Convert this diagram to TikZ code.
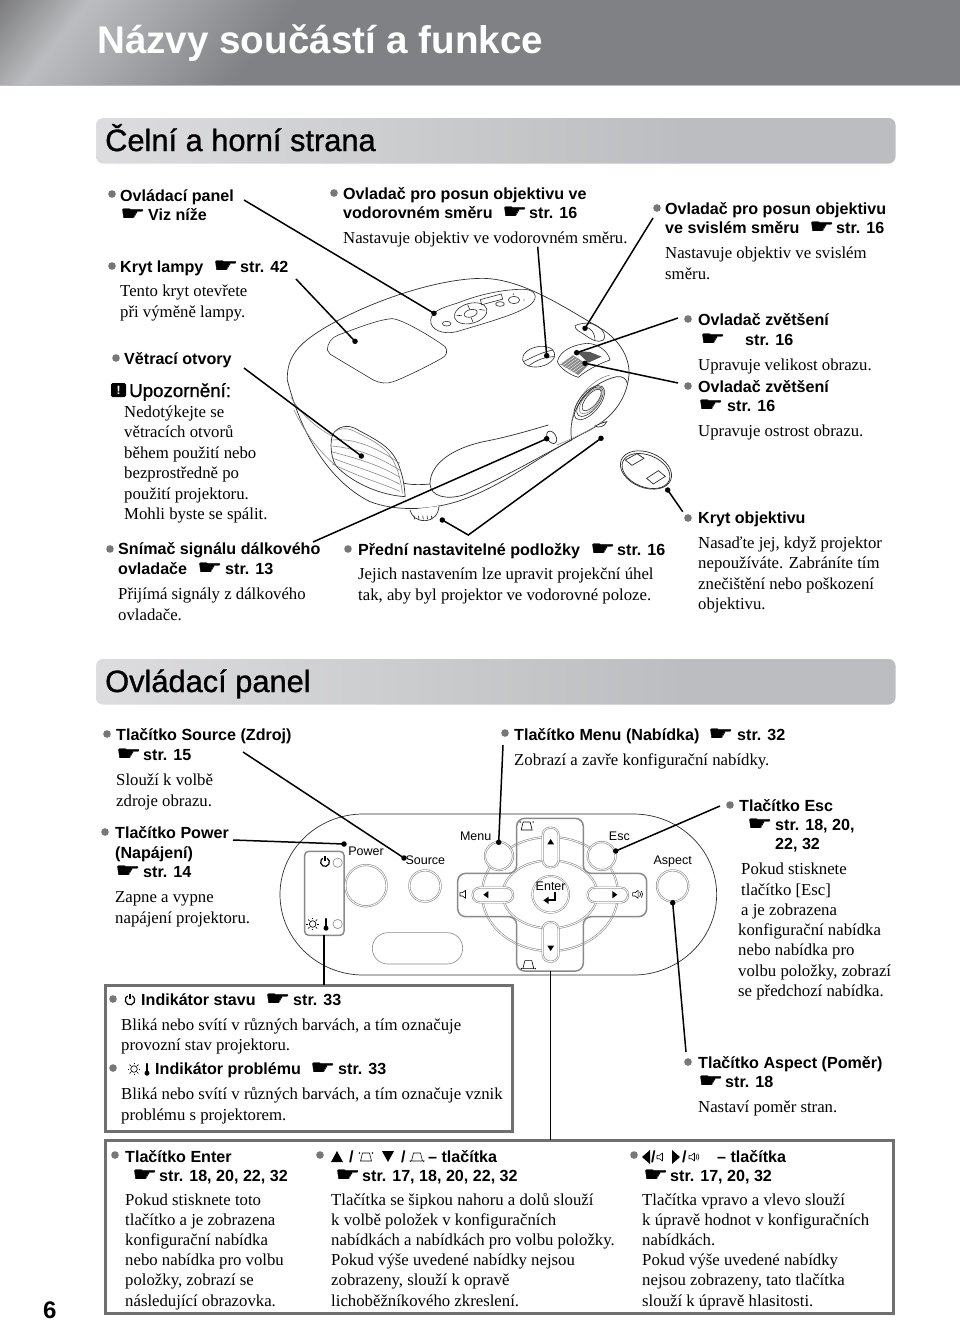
\documentclass[tikz,border=0pt]{standalone}
\usepackage{fontspec}
\usepackage{graphicx}
\setmainfont{Liberation Serif}
\newfontfamily\arial{Liberation Sans}
\newfontfamily\arialfb[FakeBold=1]{Liberation Sans}
\newfontfamily\dvb[FakeBold=1.2]{DejaVu Sans}
\definecolor{hA}{HTML}{7C7C7E}
\definecolor{hB}{HTML}{BCBDC0}
\definecolor{hC}{HTML}{808184}
\definecolor{sA}{HTML}{B8B8BA}
\definecolor{sB}{HTML}{E6E6E7}
\definecolor{sC}{HTML}{BCBDC0}
\definecolor{bull}{HTML}{777777}
\definecolor{fr}{HTML}{707070}
\definecolor{pl}{HTML}{2E2E2E}
\definecolor{pg}{HTML}{8A8A8A}
\pgfdeclarehorizontalshading{sbar}{100bp}{color(0bp)=(sA); color(14bp)=(sB); color(62bp)=(sC); color(100bp)=(sC)}
\newcounter{lb}
\newcommand\Lb[4]{\stepcounter{lb}\node[#1] (L\arabic{lb}) at (#2,#3) {#4};}
\newcommand\Hd[3]{\Lb{hd}{#1}{#2}{#3}}
\newcommand\Bd[3]{\Lb{bd}{#1}{#2}{#3}}
\newcommand\Bu[2]{\stepcounter{lb}\node[bul] (L\arabic{lb}) at (#1,#2) {};}
\newcommand\Ha[2]{\Lb{handn}{#1}{#2}{\scalebox{1.4}[1]{☛}}}
\tikzset{
  hd/.style={anchor=base west,inner sep=0pt,font=\arial\bfseries\fontsize{16.1}{18}\selectfont},
  bd/.style={anchor=base west,inner sep=0pt,font=\fontsize{16.75}{18}\selectfont},
  handn/.style={anchor=base west,inner sep=0pt,font=\dvb\fontsize{20}{20}\selectfont},
  bul/.style={circle,fill=bull,inner sep=0pt,minimum size=7.6pt},
  dotn/.style={circle,fill=black,inner sep=0pt,minimum size=5.5pt},
  leader/.style={line width=1.5pt,black},
  frameb/.style={draw=fr,line width=3pt,fill=white},
  sbarb/.style={rounded corners=7pt,shading=sbar},
  sect/.style={anchor=base west,inner sep=0pt,font=\arialfb\fontsize{30.8}{34}\selectfont},
  pj/.style={draw=pl,line width=.7pt},
  pjl/.style={draw=pg,line width=.6pt},
  zA/.style={shift={(270,180)},x=.33333pt,y=-.33333pt},
  zB/.style={shift={(270,790)},x=.33333pt,y=-.33333pt},
  ring/.style={draw=pg,double=white,double distance=.9pt,line width=.6pt,fill=white},
  pnl/.style={anchor=center,inner sep=0pt,font=\arial\fontsize{12.5}{14}\selectfont},
  pics/pwr/.style={code={\draw[line width=1.2pt,black] (-60:#1) arc[start angle=-60,end angle=240,radius=#1]; \draw[line width=1.2pt,black] (0,-1.35*#1) -- (0,-.2*#1);}},
  pics/lamp/.style={code={\draw[line width=.7pt,black] (0,0) circle[radius=3.3]; \foreach \a in {0,45,...,315}{\draw[line width=.7pt,black] (\a:4.6) -- (\a:6.3);}}},
  pics/therm/.style={code={\draw[line width=2.2pt,black,line cap=round] (0,-5) -- (0,4); \fill[black] (0,4.2) circle[radius=2.5];}},
  pics/keyt/.style={code={\draw[line width=.6pt,black] (-3.5,-4) -- (3.5,-4) -- (5.5,4) -- (-5.5,4) -- cycle; \fill[black] (-6.5,-4) circle[radius=.8] (6.5,-4) circle[radius=.8];}},
  pics/keyb/.style={code={\draw[line width=.6pt,black] (-3.5,-4) -- (3.5,-4) -- (5.5,4) -- (-5.5,4) -- cycle; \fill[black] (-6.8,4) circle[radius=.8] (6.8,4) circle[radius=.8];}},
  pics/spk/.style={code={\draw[line width=.6pt,black,line join=round] (-4,-1.7) -- (-1.5,-1.7) -- (1.5,-4) -- (1.5,4) -- (-1.5,1.7) -- (-4,1.7) -- cycle;}},
  pics/spkr/.style={code={\draw[line width=.6pt,black,line join=round] (-4,-1.7) -- (-1.5,-1.7) -- (1.5,-4) -- (1.5,4) -- (-1.5,1.7) -- (-4,1.7) -- cycle; \draw[line width=.6pt,black] (3,-2.5) arc[start angle=-40,end angle=40,radius=3.8] (4.7,-3.4) arc[start angle=-40,end angle=40,radius=5.2];}},
}
\begin{document}
\begin{tikzpicture}[x=1pt,y=-1pt]
\useasboundingbox (0,0) rectangle (960,1323);
\fill[white] (0,0) rectangle (960,1323);
% title band with slanted sheen
\fill[hA] (0,0) rectangle (960,85);
\foreach \t in {0,3,...,90}{\pgfmathsetmacro{\p}{\t/90*100}\fill[hB!\p!hA] (\t,0) -- (960,0) -- (960,85) -- ({\t-68},85) -- cycle;}
\foreach \t in {93,96,...,300}{\pgfmathsetmacro{\p}{(\t-90)/210*100}\fill[hC!\p!hB] (\t,0) -- (960,0) -- (960,85) -- ({\t-68},85) -- cycle;}
\draw[line width=.8pt,color=hB] (0,85.3) -- (960,85.3);
\node[anchor=base west,inner sep=0pt,text=white,font=\arial\bfseries\fontsize{38.6}{40}\selectfont] (title) at (97,53) {Názvy součástí a funkce};
\path[sbarb] (96,118) rectangle (895.5,163.5);
\node[sect] (sect1) at (105,151) {Čelní a horní strana};
\path[sbarb] (96,659) rectangle (895.5,704.5);
\node[sect] (sect2) at (105,692) {Ovládací panel};

% ---------- projector
\begin{scope}[zA]
\draw[pj,fill=white] (52,600) .. controls (50,530) and (85,490) .. (170,440) .. controls (300,365) and (500,295) .. (640,295) .. controls (760,298) and (880,380) .. (1000,450) .. controls (1060,490) and (1085,550) .. (1075,600) .. controls (1065,660) and (1030,710) .. (960,750) .. controls (800,830) and (700,920) .. (560,965) .. controls (480,990) and (380,995) .. (300,965) .. controls (170,900) and (90,750) .. (52,600) -- cycle;
\draw[pjl] (62,650) .. controls (90,700) and (140,745) .. (190,770);
\draw[pjl] (72,690) .. controls (110,770) and (160,830) .. (220,875);
\draw[pj] (395,908) .. controls (420,915) and (450,915) .. (480,912);
\draw[pj] (480,912) .. controls (480,860) and (530,810) .. (640,785) .. controls (720,770) and (800,745) .. (835,735);
\draw[pj] (480,912) .. controls (482,950) and (530,960) .. (580,945) .. controls (680,905) and (800,835) .. (905,780);
\draw[pjl] (860,795) .. controls (900,780) and (960,750) .. (1000,725);
% vent
\draw[pj,fill=white] (185,775) .. controls (190,745) and (225,730) .. (255,745) .. controls (300,770) and (345,790) .. (370,825) .. controls (395,860) and (405,920) .. (405,950) .. controls (330,945) and (250,910) .. (200,860) .. controls (185,840) and (180,800) .. (185,775) -- cycle;
\draw[pjl] (190,760) .. controls (200,745) and (230,742) .. (250,752) .. controls (295,775) and (340,795) .. (362,830) .. controls (385,862) and (395,915) .. (397,940);
\foreach \d in {0,30,...,120}{\draw[pjl] (187,{780+\d*.6}) .. controls ({240+\d*.3},{775+\d}) and ({300+\d*.3},{790+\d}) .. (390,{850+\d*.7});}
% lamp cover
\draw[pjl,draw=pl] (172,510) .. controls (172,490) and (185,472) .. (205,465) .. controls (260,445) and (320,420) .. (365,416) .. controls (395,415) and (500,480) .. (525,500) .. controls (535,512) and (530,528) .. (515,535) .. controls (470,560) and (410,590) .. (370,605) .. controls (350,612) and (330,610) .. (310,600) .. controls (260,570) and (200,535) .. (180,522) -- cycle;
% control panel
\draw[pjl,draw=pl] (482,420) .. controls (485,395) and (510,385) .. (560,370) .. controls (610,350) and (680,330) .. (750,328) .. controls (790,325) and (805,345) .. (790,365) .. controls (770,395) and (660,425) .. (560,455) .. controls (520,465) and (480,450) .. (482,420) -- cycle;
\draw[pjl,draw=pl,rotate around={15:(602,400)}] (602,400) ellipse [x radius=50,y radius=30];
\draw[pjl,draw=pl,rotate around={15:(602,400)}] (602,400) ellipse [x radius=20,y radius=11];
\draw[pjl,draw=pl,rotate around={15:(602,400)}] (560,395) -- (575,400) (630,395) -- (645,402) (600,372) -- (602,388) (600,412) -- (602,428);
\draw[pjl,draw=pl] (530,431) ellipse [x radius=13,y radius=7];
\draw[pjl,draw=pl] (690,372) ellipse [x radius=13,y radius=7];
\draw[pjl,draw=pl] (732,360) ellipse [x radius=17,y radius=11];
\draw[pjl,draw=pl,rotate around={15:(665,358)}] (632,350) rectangle (697,366);
\fill[pl] (730,342) circle[radius=2] (762,360) circle[radius=2];
% horizontal lens dial
\draw[pjl,draw=pl,rotate around={12:(806,530)}] (806,530) ellipse [x radius=49,y radius=30];
\draw[pjl,draw=pl] (760,545) .. controls (790,530) and (820,515) .. (850,510);
\draw[pjl,draw=pl] (775,558) .. controls (800,540) and (825,530) .. (855,530);
% vertical lens dial
\draw[pjl,draw=pl] (915,437) .. controls (935,428) and (965,425) .. (985,440) .. controls (1000,450) and (1010,470) .. (1000,480) .. controls (985,490) and (965,480) .. (945,465) .. controls (930,455) and (915,450) .. (915,437) -- cycle;
\draw[pjl,draw=pl] (945,440) .. controls (965,445) and (975,460) .. (975,482);
% zoom/focus rings
\draw[pjl,draw=pl] (862,545) .. controls (870,510) and (910,495) .. (950,490) .. controls (985,490) and (1015,515) .. (1020,540) .. controls (990,550) and (950,570) .. (925,592) .. controls (900,585) and (870,565) .. (862,545) -- cycle;
\fill[pg] (870,553) -- (908,525) -- (955,555) -- (925,585) -- cycle;
\foreach \k in {0,6,...,36}{\draw[white,line width=.35pt] ({870+\k},{553+\k*.85}) -- ({908+\k},{525+\k*.85});}
\fill[pl!80] (918,513) -- (960,516) -- (995,530) -- (955,548) -- cycle;
% lens
\draw[pj] (905,780) .. controls (890,700) and (950,610) .. (1040,590) .. controls (1058,588) and (1068,595) .. (1072,610);
\draw[pjl] (905,725) .. controls (915,660) and (960,600) .. (1020,585);
\draw[pjl,draw=pl,rotate around={50:(958,668)}] (958,668) ellipse [x radius=62,y radius=30];
\draw[pjl,draw=pl,rotate around={50:(960,665)}] (960,665) ellipse [x radius=54,y radius=25];
\draw[pjl,rotate around={50:(962,663)}] (962,663) ellipse [x radius=47,y radius=21];
\draw[pjl,draw=pl,rotate around={50:(965,660)}] (965,660) ellipse [x radius=40,y radius=17];
% sensor
\draw[pj,rotate around={-60:(845,772)}] (845,772) ellipse [x radius=20,y radius=13];
% feet
\draw[pj,fill=white] (420,990) .. controls (425,1010) and (440,1022) .. (465,1022) .. controls (490,1020) and (505,1005) .. (507,978);
\foreach \q in {432,445,...,495}{\draw[pjl,draw=pl] (\q,1007) -- ({\q+2},1018);}
\draw[pj,fill=white] (975,738) .. controls (985,745) and (1005,740) .. (1010,725) -- (998,728) -- cycle;
% lens cap
\draw[pj,rotate around={-22:(1128,870)}] (1128,870) ellipse [x radius=80,y radius=53];
\draw[pj,rotate around={-22:(1128,873)}] (1128,873) ellipse [x radius=75,y radius=48];
\draw[pj] (1066,840) -- (1101,821) -- (1122,835) -- (1086,856) -- cycle;
\draw[pj] (1130,895) -- (1165,872) -- (1186,889) -- (1150,912) -- cycle;
\end{scope}

% ---------- control panel drawing
\begin{scope}[zB]
\draw[pj,fill=white] (280,72) -- (1090,72) arc[start angle=-90,end angle=90,x radius=250,y radius=241.5] -- (280,555) arc[start angle=90,end angle=270,x radius=250,y radius=241.5] -- cycle;
\draw[draw=pg,line width=1.5pt,rounded corners=4pt] (104,184) rectangle (222,436);
\draw[pjl] (203,218) circle[radius=14] (203,402) circle[radius=14];
\pic[scale=3] at (165,216) {pwr=4.4};
\pic[scale=3] at (128,402) {lamp};
\pic[scale=3] at (168,402) {therm};
\draw[pjl,rounded corners=15.5pt] (307,428) rectangle (578,522);
\draw[ring] (288,287) circle[radius=62];
\draw[ring] (465,288) circle[radius=47];
\draw[ring,fill=none] (840,312) ellipse [x radius=204,y radius=171];
\draw[ring,fill=none] (840,313) ellipse [x radius=142,y radius=102];
\draw[draw=pg,line width=1.5pt,rounded corners=8pt] (740,85) -- (940,85) -- (940,250) -- (1130,250) -- (1130,380) -- (940,380) -- (940,543) -- (740,543) -- (740,380) -- (563,380) -- (563,250) -- (740,250) -- cycle;
\draw[ring] (687,198) circle[radius=42];
\draw[ring] (995,198) circle[radius=42];
\draw[ring] (1208,288) circle[radius=47];
\draw[ring,rounded corners=7.5pt] (818,113) rectangle (866,232);
\draw[ring,rounded corners=7.5pt] (818,396) rectangle (866,515);
\draw[ring,rounded corners=7pt] (608,293) rectangle (729,337);
\draw[ring,rounded corners=7pt] (953,293) rectangle (1074,337);
\fill[black] (842,147) -- (852,163) -- (832,163) -- cycle;
\fill[black] (842,483) -- (852,467) -- (832,467) -- cycle;
\fill[black] (640,314) -- (655,303) -- (655,325) -- cycle;
\fill[black] (1042,314) -- (1027,303) -- (1027,325) -- cycle;
\draw[ring,line width=.55pt] (842,313) circle[radius=55];
\draw[line width=1.7pt,black] (855,305) -- (855,330) -- (830,330);
\fill[black] (820,331) -- (836,320) -- (836,342) -- cycle;
\pic[scale=3] at (770,108) {keyt};
\pic[scale=3] at (775,524) {keyb};
\pic[scale=3] at (582,313) {spk};
\pic[scale=3] at (1100,313) {spkr};
\node[pnl] (lpower) at (288,184) {Power};
\node[pnl] (lsource) at (466,210) {Source};
\node[pnl] (lmenu) at (617,140) {Menu};
\node[pnl] (lesc) at (1048,140) {Esc};
\node[pnl] (laspect) at (1208,213) {Aspect};
\node[pnl] (lenter) at (842,289) {Enter};
\end{scope}

% ---------- frames
\draw[frameb] (105.5,985) rectangle (512.5,1131);
\draw[frameb] (105.5,1140) rectangle (893,1313);

% ---------- leaders
\node[dotn] (dpanel) at (434,313.3) {};
\node[dotn] (dcover) at (355,341.3) {};
\node[dotn] (dvent) at (361.3,456) {};
\node[dotn] (dsens) at (546.7,438.7) {};
\node[dotn] (dhoriz) at (546.7,355.7) {};
\node[dotn] (dvert) at (585,328.3) {};
\node[dotn] (dzoom) at (576.7,352.7) {};
\node[dotn] (dfocus) at (585,363.3) {};
\node[dotn] (dfootl) at (442.3,520) {};
\node[dotn] (dfootr) at (601,438.3) {};
\node[dotn] (dcap) at (667.7,490) {};
\node[dotn] (dsource) at (404,858) {};
\node[dotn] (dpower) at (344,844) {};
\node[dotn] (dmenu) at (498.7,842.3) {};
\node[dotn] (desc) at (615.7,851) {};
\node[dotn] (daspect) at (672.7,902.7) {};
\coordinate (cpanel) at (244,200);
\coordinate (ccover) at (296,279);
\coordinate (cvent) at (244,368);
\coordinate (csens) at (313,542);
\coordinate (choriz) at (537.7,246.7);
\coordinate (cvert) at (653,218);
\coordinate (czoom) at (678,318);
\coordinate (cfocus) at (678,383);
\coordinate (cfoot) at (468.3,535);
\coordinate (ccap) at (682.7,511.7);
\coordinate (csource) at (243,752);
\coordinate (cpower) at (233,840);
\coordinate (cmenu) at (503,745);
\coordinate (cesc) at (720,806);
\coordinate (caspect) at (686,1052);
\coordinate (cind) at (324,935);
\coordinate (cindb) at (324,985);
\coordinate (cbtn) at (550.7,971);
\coordinate (cbtnb) at (550.7,1140);
\draw[leader] (cpanel) -- (dpanel.center);
\draw[leader] (ccover) -- (dcover.center);
\draw[leader] (cvent) -- (dvent.center);
\draw[leader] (csens) -- (dsens.center);
\draw[leader] (choriz) -- (dhoriz.center);
\draw[leader] (cvert) -- (dvert.center);
\draw[leader] (czoom) -- (dzoom.center);
\draw[leader] (cfocus) -- (dfocus.center);
\draw[leader] (dfootl.center) -- (cfoot) -- (dfootr.center);
\draw[leader] (ccap) -- (dcap.center);
\draw[leader] (csource) -- (dsource.center);
\draw[leader] (cpower) -- (dpower.center);
\draw[leader] (cmenu) -- (dmenu.center);
\draw[leader] (cesc) -- (desc.center);
\draw[leader] (caspect) -- (daspect.center);
\draw[leader] (cind) -- (cindb);
\draw[leader] (cbtn) -- (cbtnb);

% ---------- upper texts
\Bu{112}{194}\Hd{120}{201}{Ovládací panel}
\Ha{120}{220}\Hd{148}{220}{Viz níže}
\Bu{112}{266}\Hd{120}{272}{Kryt lampy}\Ha{213}{272}\Hd{240}{272}{str. 42}
\Bd{120}{296}{Tento kryt otevřete}
\Bd{120}{317}{při výměně lampy.}
\Bu{116}{358}\Hd{124}{364}{Větrací otvory}
\node[fill=black,rounded corners=1.5pt,inner sep=0pt,minimum width=15pt,minimum height=14pt,text=white,font=\arial\bfseries\fontsize{12}{12}\selectfont] (warn) at (118.5,390) {!};
\Lb{hd,font=\arialfb\fontsize{18.7}{20}\selectfont}{129}{397}{Upozornění:}
\Bd{124}{417}{Nedotýkejte se}
\Bd{124}{437}{větracích otvorů}
\Bd{124}{458}{během použití nebo}
\Bd{124}{478}{bezprostředně po}
\Bd{124}{499}{použití projektoru.}
\Bd{124}{519}{Mohli byste se spálit.}
\Bu{110}{549}\Hd{118}{554}{Snímač signálu dálkového}
\Hd{118}{574}{ovladače}\Ha{197}{574}\Hd{225}{574}{str. 13}
\Bd{118}{599}{Přijímá signály z dálkového}
\Bd{118}{620}{ovladače.}
\Bu{334}{193}\Hd{343}{199}{Ovladač pro posun objektivu ve}
\Hd{343}{218}{vodorovném směru}\Ha{502}{218}\Hd{529}{218}{str. 16}
\Bd{343}{243}{Nastavuje objektiv ve vodorovném směru.}
\Bu{348}{549}\Hd{358}{555}{Přední nastavitelné podložky}\Ha{590}{555}\Hd{617}{555}{str. 16}
\Bd{358}{579}{Jejich nastavením lze upravit projekční úhel}
\Bd{358}{600}{tak, aby byl projektor ve vodorovné poloze.}
\Bu{657}{208}\Hd{665}{214}{Ovladač pro posun objektivu}
\Hd{665}{233}{ve svislém směru}\Ha{809}{233}\Hd{836}{233}{str. 16}
\Bd{665}{258}{Nastavuje objektiv ve svislém}
\Bd{665}{279}{směru.}
\Bu{688}{319}\Hd{698}{325}{Ovladač zvětšení}
\Ha{700}{345}\Hd{745}{345}{str. 16}
\Bd{698}{370}{Upravuje velikost obrazu.}
\Bu{688}{386}\Hd{698}{392}{Ovladač zvětšení}
\Ha{698}{411}\Hd{727}{411}{str. 16}
\Bd{698}{436}{Upravuje ostrost obrazu.}
\Bu{688}{518}\Hd{698}{523}{Kryt objektivu}
\Bd{698}{548}{Nasaďte jej, když projektor}
\Bd{698}{568}{nepoužíváte. Zabráníte tím}
\Bd{698}{589}{znečištění nebo poškození}
\Bd{698}{609}{objektivu.}

% ---------- panel texts
\Bu{107}{734}\Hd{116}{740}{Tlačítko Source (Zdroj)}
\Ha{116}{760}\Hd{143}{760}{str. 15}
\Bd{116}{785}{Slouží k volbě}
\Bd{116}{806}{zdroje obrazu.}
\Bu{105}{832}\Hd{115}{838}{Tlačítko Power}
\Hd{115}{858}{(Napájení)}
\Ha{115}{877}\Hd{143}{877}{str. 14}
\Bd{115}{902}{Zapne a vypne}
\Bd{115}{923}{napájení projektoru.}
\Bu{505}{733}\Hd{514}{740}{Tlačítko Menu (Nabídka)}\Ha{708}{740}\Hd{737}{740}{str. 32}
\Bd{514}{765}{Zobrazí a zavře konfigurační nabídky.}
\Bu{730}{805}\Hd{739}{811}{Tlačítko Esc}
\Ha{747}{830}\Hd{775}{830}{str. 18, 20,}
\Hd{775}{849}{22, 32}
\Bd{741}{874}{Pokud stisknete}
\Bd{741}{895}{tlačítko [Esc]}
\Bd{741}{915}{a je zobrazena}
\Bd{738}{935}{konfigurační nabídka}
\Bd{738}{955}{nebo nabídka pro}
\Bd{738}{976}{volbu položky, zobrazí}
\Bd{738}{996}{se předchozí nabídka.}
\Bu{688}{1062}\Hd{698}{1068}{Tlačítko Aspect (Poměr)}
\Ha{698}{1087}\Hd{725}{1087}{str. 18}
\Bd{698}{1112}{Nastaví poměr stran.}

% ---------- box 1
\Bu{113}{999}\pic at (130,1000) {pwr=4.8};
\Hd{141}{1005}{Indikátor stavu}\Ha{265}{1005}\Hd{293}{1005}{str. 33}
\Bd{121}{1030}{Bliká nebo svítí v různých barvách, a tím označuje}
\Bd{121}{1050}{provozní stav projektoru.}
\Bu{113}{1068}\pic at (134,1069) {lamp};\pic at (147,1069) {therm};
\Hd{155}{1074}{Indikátor problému}\Ha{310}{1074}\Hd{338}{1074}{str. 33}
\Bd{121}{1099}{Bliká nebo svítí v různých barvách, a tím označuje vznik}
\Bd{121}{1120}{problému s projektorem.}

% ---------- box 2
\Bu{115}{1155}\Hd{125}{1162}{Tlačítko Enter}
\Ha{132}{1181}\Hd{159}{1181}{str. 18, 20, 22, 32}
\Bd{125}{1205}{Pokud stisknete toto}
\Bd{125}{1225}{tlačítko a je zobrazena}
\Bd{125}{1245}{konfigurační nabídka}
\Bd{125}{1265}{nebo nabídka pro volbu}
\Bd{125}{1285}{položky, zobrazí se}
\Bd{125}{1306}{následující obrazovka.}
\Bu{320}{1155}
\fill[black] (337,1151) -- (343,1162) -- (331,1162) -- cycle;
\Hd{349}{1162}{/}\pic at (366,1157) {keyt};
\fill[black] (388,1162) -- (394,1151) -- (382,1151) -- cycle;
\Hd{401}{1162}{/}\pic at (417,1157) {keyb};
\Hd{428}{1162}{– tlačítka}
\Ha{335}{1181}\Hd{362}{1181}{str. 17, 18, 20, 22, 32}
\Bd{331}{1205}{Tlačítka se šipkou nahoru a dolů slouží}
\Bd{331}{1225}{k volbě položek v konfiguračních}
\Bd{331}{1245}{nabídkách a nabídkách pro volbu položky.}
\Bd{331}{1265}{Pokud výše uvedené nabídky nejsou}
\Bd{331}{1285}{zobrazeny, slouží k opravě}
\Bd{331}{1306}{lichoběžníkového zkreslení.}
\Bu{634}{1155}
\fill[black] (642,1157) -- (650,1150) -- (650,1164) -- cycle;
\Hd{651}{1162}{/}\pic at (661,1157) {spk};
\fill[black] (680,1157) -- (672,1150) -- (672,1164) -- cycle;
\Hd{682}{1162}{/}\pic at (693,1157) {spkr};
\Hd{717}{1162}{– tlačítka}
\Ha{643}{1181}\Hd{670}{1181}{str. 17, 20, 32}
\Bd{642}{1205}{Tlačítka vpravo a vlevo slouží}
\Bd{642}{1225}{k úpravě hodnot v konfiguračních}
\Bd{642}{1245}{nabídkách.}
\Bd{642}{1265}{Pokud výše uvedené nabídky}
\Bd{642}{1285}{nejsou zobrazeny, tato tlačítka}
\Bd{642}{1306}{slouží k úpravě hlasitosti.}
\Lb{hd,font=\arial\bfseries\fontsize{24}{26}\selectfont}{43}{1318.5}{6}
\end{tikzpicture}
\end{document}
